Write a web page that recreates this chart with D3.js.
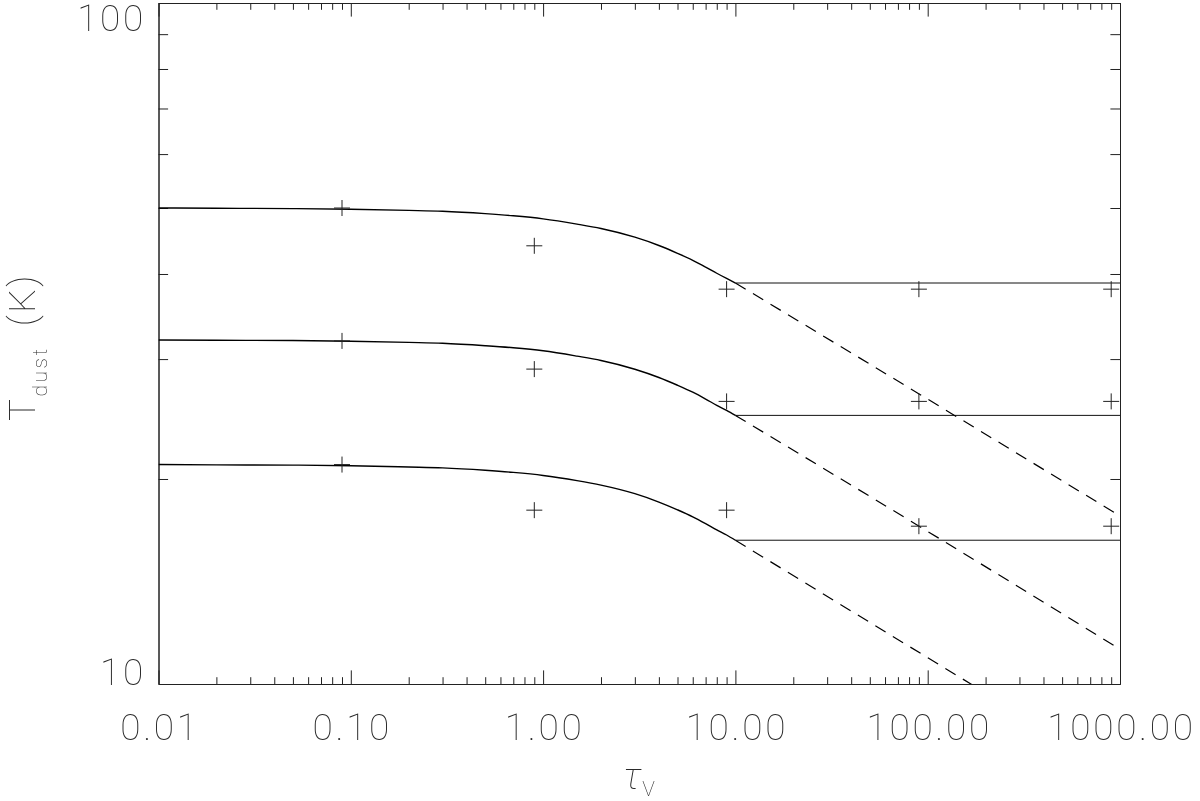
<!DOCTYPE html>
<html>
<head>
<meta charset="utf-8">
<script src="https://cdn.jsdelivr.net/npm/d3@7"></script>
<style>
  html, body { margin: 0; padding: 0; background: #fff; }
  svg { display: block; filter: grayscale(100%); }
  .lbl { font-family: Roboto, "Liberation Sans", Arial, sans-serif; font-weight: 100; fill: #2a2a2a; }
</style>
</head>
<body>
<svg id="chart" width="1200" height="801"></svg>
<script>
// ---------------- data ----------------
const xTickValues = [0.01, 0.1, 1, 10, 100, 1000];
const xTickLabels = ["0.01", "0.10", "1.00", "10.00", "100.00", "1000.00"];
const yTickValues = [10, 100];
const yTickLabels = ["10", "100"];

// model curves (solid, tau <= 10)
const curveTau = [0.01, 0.02, 0.05, 0.1, 0.2, 0.3, 0.5, 0.7, 1, 1.5, 2, 3, 4, 5, 6, 7, 8, 9, 10];
const curveTop = [50.0, 49.96, 49.9, 49.8, 49.6, 49.45, 49.05, 48.7, 48.2, 47.35, 46.65, 45.3, 44.05, 42.9, 41.9, 40.95, 40.1, 39.4, 38.8];
const curveMid = [32.0, 31.97, 31.94, 31.87, 31.74, 31.65, 31.39, 31.17, 30.85, 30.3, 29.86, 28.99, 28.19, 27.46, 26.82, 26.21, 25.66, 25.22, 24.8];
const curveBot = [21.0, 20.98, 20.96, 20.92, 20.83, 20.77, 20.6, 20.45, 20.24, 19.89, 19.59, 19.03, 18.5, 18.02, 17.6, 17.2, 16.84, 16.55, 16.26];

// flat continuation (solid) for tau >= 10
const flatTau = [10, 1000];
const flatTop = [38.8, 38.8];
const flatMid = [24.8, 24.8];
const flatBot = [16.26, 16.26];

// dashed continuation for tau >= 10
const dashTau = [10, 100, 1000];
const dashTop = [38.8, 26.2, 17.65];
const dashMid = [24.8, 16.75, 11.25];
const dashBot = [16.26, 10.93, 7.36];

// plus markers
const markTau = [0.09, 0.9, 9, 90, 900];
const markTop = [50.0, 44.0, 38.0, 38.0, 38.0];
const markMid = [31.9, 29.0, 26.0, 26.0, 26.0];
const markBot = [21.0, 18.0, 18.0, 17.05, 17.05];

// ---------------- layout ----------------
const L = 158.5, R = 1120, T = 3, B = 684;
const svg = d3.select("#chart");

const x = d3.scaleLog().domain([0.01, 1000]).range([L, R]);
const y = d3.scaleLog().domain([10, 100]).range([B, T]);

const minorX = [];
for (let e = -2; e < 3; e++) for (let m = 2; m <= 9; m++) minorX.push(m * Math.pow(10, e));
const minorY = [];
for (let m = 2; m <= 9; m++) minorY.push(m * 10);

const axisColor = "#222";
function styleAxis(g) {
  g.selectAll("path.domain").attr("stroke", axisColor).attr("stroke-width", 1);
  g.selectAll(".tick line").attr("stroke", axisColor).attr("stroke-width", 1);
  g.selectAll(".tick text").remove();
}
const xMaj = 13.6, xMin = 6.8, yMaj = 19.2, yMin = 9.6;

svg.append("g").attr("transform", `translate(0,${B})`)
  .call(d3.axisBottom(x).tickValues(xTickValues).tickSizeInner(-xMaj).tickSizeOuter(0).tickFormat(""))
  .call(styleAxis);
svg.append("g").attr("transform", `translate(0,${B})`)
  .call(d3.axisBottom(x).tickValues(minorX).tickSizeInner(-xMin).tickSizeOuter(0).tickFormat(""))
  .call(styleAxis);
svg.append("g").attr("transform", `translate(0,${T})`)
  .call(d3.axisTop(x).tickValues(xTickValues).tickSizeInner(-xMaj).tickSizeOuter(0).tickFormat(""))
  .call(styleAxis);
svg.append("g").attr("transform", `translate(0,${T})`)
  .call(d3.axisTop(x).tickValues(minorX).tickSizeInner(-xMin).tickSizeOuter(0).tickFormat(""))
  .call(styleAxis);
svg.append("g").attr("transform", `translate(${L},0)`)
  .call(d3.axisLeft(y).tickValues(yTickValues).tickSizeInner(-yMaj).tickSizeOuter(0).tickFormat(""))
  .call(styleAxis);
svg.append("g").attr("transform", `translate(${L},0)`)
  .call(d3.axisLeft(y).tickValues(minorY).tickSizeInner(-yMin).tickSizeOuter(0).tickFormat(""))
  .call(styleAxis);
svg.append("g").attr("transform", `translate(${R},0)`)
  .call(d3.axisRight(y).tickValues(yTickValues).tickSizeInner(-yMaj).tickSizeOuter(0).tickFormat(""))
  .call(styleAxis);
svg.append("g").attr("transform", `translate(${R},0)`)
  .call(d3.axisRight(y).tickValues(minorY).tickSizeInner(-yMin).tickSizeOuter(0).tickFormat(""))
  .call(styleAxis);

// tick labels
svg.append("g").selectAll("text").data(xTickValues).join("text")
  .attr("class", "lbl")
  .attr("x", d => x(d) + 1.5)
  .attr("y", 740)
  .attr("text-anchor", "middle")
  .style("font-size", "37px")
  .style("letter-spacing", "2.7px")
  .text((d, i) => xTickLabels[i]);

svg.append("g").selectAll("text").data(yTickValues).join("text")
  .attr("class", "lbl")
  .attr("x", 146)
  .attr("y", d => d === 100 ? 31 : y(d) + 1)
  .attr("text-anchor", "end")
  .style("font-size", "37px")
  .style("letter-spacing", "2.7px")
  .text((d, i) => yTickLabels[i]);

// axis titles
const xt = svg.append("text").attr("class", "lbl")
  .attr("x", 639).attr("y", 789).attr("text-anchor", "middle");
xt.append("tspan").style("font-size", "37px").style("font-style", "italic").text("τ");
xt.append("tspan").style("font-size", "21px").attr("dy", 7).attr("dx", 1).text("V");

const yt = svg.append("text").attr("class", "lbl")
  .attr("transform", "translate(35,421) rotate(-90)")
  .attr("text-anchor", "start")
  .style("letter-spacing", "2.5px");
yt.append("tspan").style("font-size", "37px").text("T");
yt.append("tspan").style("font-size", "21px").attr("dy", 12).text("dust");
yt.append("tspan").style("font-size", "37px").attr("dy", -12).attr("dx", 20).text("(K)");

// clip
svg.append("clipPath").attr("id", "plotclip")
  .append("rect").attr("x", L).attr("y", T).attr("width", R - L).attr("height", B - T);
const plot = svg.append("g").attr("clip-path", "url(#plotclip)");

const line = d3.line().x(d => x(d[0])).y(d => y(d[1])).curve(d3.curveMonotoneX);
const zip = (a, b) => a.map((v, i) => [v, b[i]]);

[curveTop, curveMid, curveBot].forEach(s => {
  plot.append("path").attr("d", line(zip(curveTau, s)))
    .attr("fill", "none").attr("stroke", "#000").attr("stroke-width", 1.4);
});
[flatTop, flatMid, flatBot].forEach(s => {
  plot.append("path").attr("d", line(zip(flatTau, s)))
    .attr("fill", "none").attr("stroke", "#111").attr("stroke-width", 1);
});
[dashTop, dashMid, dashBot].forEach(s => {
  plot.append("path").attr("d", line(zip(dashTau, s)))
    .attr("fill", "none").attr("stroke", "#000").attr("stroke-width", 1.2)
    .attr("stroke-dasharray", "12,8.5");
});

// plus markers
const h = 8;
[markTop, markMid, markBot].forEach(s => {
  const pts = zip(markTau, s);
  plot.append("g").selectAll("path").data(pts).join("path")
    .attr("d", d => {
      const cx = x(d[0]), cy = y(d[1]);
      return `M${cx - h},${cy}H${cx + h}M${cx},${cy - h}V${cy + h}`;
    })
    .attr("stroke", "#222").attr("stroke-width", 1).attr("fill", "none");
});
</script>
</body>
</html>
